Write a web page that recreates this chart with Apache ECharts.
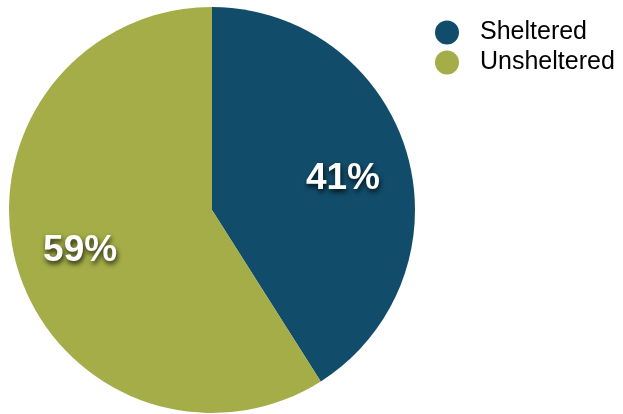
<!DOCTYPE html>
<html>
<head>
<meta charset="utf-8">
<script src="https://cdn.jsdelivr.net/npm/echarts@6/dist/echarts.min.js"></script>
<style>
  html, body { margin: 0; padding: 0; background: #ffffff; }
  #chart { width: 623px; height: 414px; }
</style>
</head>
<body>
<div id="chart"></div>
<script>
// Share of people experiencing homelessness by shelter status
const categories = ['Sheltered', 'Unsheltered'];
const shares = [41, 59];
const colors = ['#114d6a', '#a4ad48'];

const pieData = categories.map((name, i) => ({
  name: name,
  value: shares[i],
  itemStyle: { color: colors[i] }
}));

// small nudges for the percentage labels
const labelNudges = [[-4, 8], [3, 2]];

const chart = echarts.init(document.getElementById('chart'), null, { renderer: 'canvas' });

const center = [212, 210];
const outer = 203;

chart.setOption({
  animation: false,
  legend: {
    orient: 'vertical',
    left: 435,
    top: 20,
    padding: 0,
    icon: 'circle',
    itemWidth: 24,
    itemHeight: 24,
    itemGap: 5,
    data: categories,
    textStyle: {
      fontFamily: 'Liberation Sans, Arial, Helvetica, sans-serif',
      fontSize: 25,
      color: '#000000',
      padding: [0, 0, 0, 16]
    }
  },
  series: [
    {
      // the slices themselves
      type: 'pie',
      center: center,
      radius: [0, outer],
      startAngle: 90,
      clockwise: true,
      silent: true,
      label: { show: false },
      labelLine: { show: false },
      data: pieData
    },
    {
      // transparent ring carrying the percentage labels further out
      type: 'pie',
      center: center,
      radius: [72, outer],
      startAngle: 90,
      clockwise: true,
      silent: true,
      itemStyle: { color: 'rgba(0,0,0,0)' },
      labelLine: { show: false },
      label: {
        show: true,
        position: 'inside',
        formatter: '{c}%',
        color: '#ffffff',
        fontFamily: 'Liberation Sans, Arial, Helvetica, sans-serif',
        fontWeight: 'bold',
        fontSize: 37,
        textShadowColor: 'rgba(0,0,0,0.8)',
        textShadowBlur: 5,
        textShadowOffsetX: 1,
        textShadowOffsetY: 3
      },
      data: categories.map((name, i) => ({
        name: name,
        value: shares[i],
        itemStyle: { color: 'rgba(0,0,0,0)' },
        label: { offset: labelNudges[i] }
      }))
    }
  ]
});
</script>
</body>
</html>
